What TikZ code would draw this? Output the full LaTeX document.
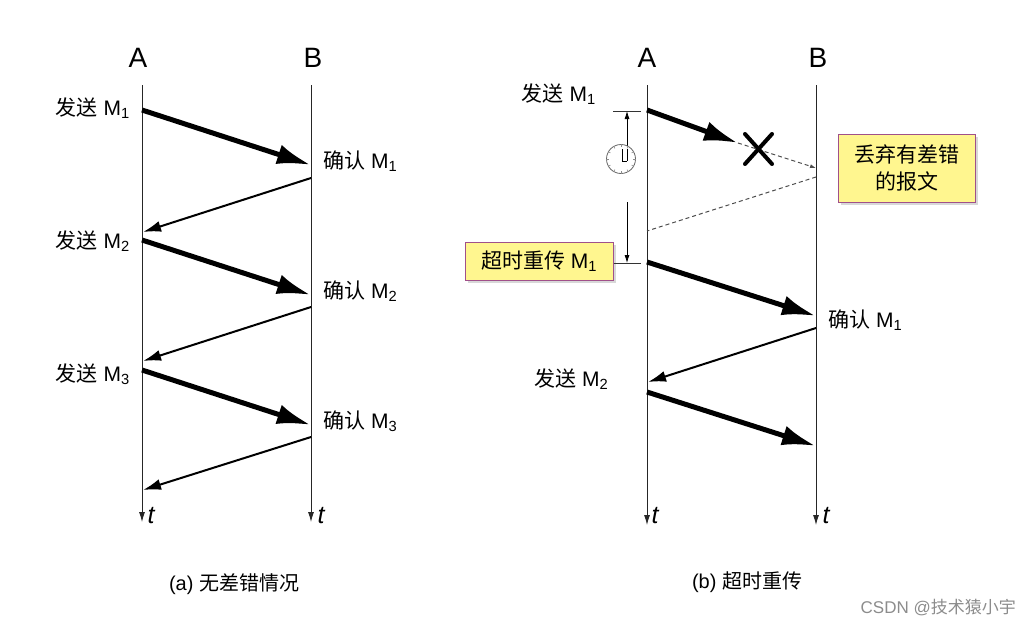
\documentclass[tikz,border=0pt]{standalone}
\usepackage{fontspec}
\setmainfont{Liberation Sans}
\newfontfamily\cjk{Noto Sans CJK SC}
\usepackage{xcolor}
\usetikzlibrary{arrows.meta,shadows,calc}
\definecolor{notefill}{HTML}{FFF68F}
\definecolor{noteline}{HTML}{A0508A}

\begin{document}
\begin{tikzpicture}[
      x=1pt, y=-1pt,
      font=\fontsize{21}{25}\selectfont,
      ends/.style={font=\fontsize{28}{30}\selectfont},
      time/.style={font=\fontsize{25}{28}\selectfont\itshape, anchor=west},
      send/.style={anchor=east, inner sep=0pt},
      ack/.style={anchor=west, inner sep=0pt},
      legend/.style={font=\fontsize{20}{24}\selectfont},
      note/.style={draw=noteline, line width=1pt, fill=notefill, align=center,
                   inner sep=0pt, drop shadow={shadow xshift=2.5pt, shadow yshift=-2.5pt, fill=black!30}},
      life/.style={-{Latex[length=10pt, width=6pt]}, line width=0.9pt, black!85},
      heavy/.style={-{Latex[length=34pt, width=20pt]}, line width=5pt},
      reply/.style={-{Latex[length=18pt, width=11pt]}, line width=2pt},
      lost/.style={dash pattern=on 4pt off 3pt, line width=1pt, black!70},
      timer/.style={-{Latex[length=8pt, width=5pt]}, line width=0.8pt},
      tick/.style={line width=0.9pt, black!80},
    ]
    \useasboundingbox (0,0) rectangle (1019,626);

    % lifelines (a)
    \coordinate (atop) at (142,85);   \coordinate (aend) at (142,522);
    \coordinate (btop) at (311,85);   \coordinate (bend) at (311,522);
    \draw[life] (atop) -- (aend);
    \draw[life] (btop) -- (bend);
    \node[ends] (a) at (138,58) {A};
    \node[ends] (b) at (313,58) {B};
    \node[time] (at) at (144,516) {t};
    \node[time] (bt) at (314,516) {t};

    % messages (a)
    \coordinate (s1) at (142,110);  \coordinate (r1) at (311,165);
    \coordinate (k1) at (311,178);  \coordinate (q1) at (143,232);
    \coordinate (s2) at (142,240);  \coordinate (r2) at (311,295);
    \coordinate (k2) at (311,307);  \coordinate (q2) at (143,361);
    \coordinate (s3) at (142,370);  \coordinate (r3) at (311,425);
    \coordinate (k3) at (311,437);  \coordinate (q3) at (143,490);
    \draw[heavy] (s1) -- (r1);
    \draw[reply] (k1) -- (q1);
    \draw[heavy] (s2) -- (r2);
    \draw[reply] (k2) -- (q2);
    \draw[heavy] (s3) -- (r3);
    \draw[reply] (k3) -- (q3);

    \node[send] (send1) at (130,108) {{\cjk 发送} M\textsubscript{1}};
    \node[send] (send2) at (130,241) {{\cjk 发送} M\textsubscript{2}};
    \node[send] (send3) at (130,374) {{\cjk 发送} M\textsubscript{3}};
    \node[ack] (ack1) at (323,161) {{\cjk 确认} M\textsubscript{1}};
    \node[ack] (ack2) at (323,291) {{\cjk 确认} M\textsubscript{2}};
    \node[ack] (ack3) at (323,421) {{\cjk 确认} M\textsubscript{3}};
    \node[legend] (capa) at (234,584) {(a) {\cjk 无差错情况}};

    % lifelines (b)
    \coordinate (ctop) at (647,85);   \coordinate (cend) at (647,525);
    \coordinate (dtop) at (816,85);   \coordinate (dend) at (816,525);
    \draw[life] (ctop) -- (cend);
    \draw[life] (dtop) -- (dend);
    \node[ends] (c) at (647,58) {A};
    \node[ends] (d) at (818,58) {B};
    \node[time] (ct) at (648,516) {t};
    \node[time] (dt) at (819,516) {t};

    % first copy is lost
    \coordinate (u1) at (647,110);  \coordinate (v1) at (738,143);
    \coordinate (w1) at (816,168);  \coordinate (x1) at (816,177);
    \coordinate (y1) at (647,231);
    \draw[heavy] (u1) -- (v1);
    \draw[lost, -{Latex[length=6pt, width=4pt]}] (v1) -- (w1);
    \draw[lost] (x1) -- (y1);
    \draw[line width=4pt, line cap=round] (745,134) -- (772,164);
    \draw[line width=4pt, line cap=round] (772,134) -- (745,164);

    % retransmission
    \coordinate (u2) at (647,262);  \coordinate (v2) at (816,316);
    \coordinate (u3) at (816,328);  \coordinate (v3) at (648,382);
    \coordinate (u4) at (647,392);  \coordinate (v4) at (816,446);
    \draw[heavy] (u2) -- (v2);
    \draw[reply] (u3) -- (v3);
    \draw[heavy] (u4) -- (v4);

    % timeout
    \node[note, minimum width=148pt, minimum height=38pt] (retry) at (539,261)
      {{\cjk 超时重传} M\textsubscript{1}};
    \coordinate (m0) at (613,111);  \coordinate (m1) at (641,111);
    \coordinate (m2) at (641,263);
    \coordinate (n0) at (627,146);  \coordinate (n1) at (627,111);
    \coordinate (n2) at (627,202);  \coordinate (n3) at (627,263);
    \draw[tick] (m0) -- (m1);
    \draw[tick] (retry.east |- m2) -- (m2);
    \draw[timer] (n0) -- (n1);
    \draw[timer] (n2) -- (n3);

    % clock
    \node[circle, draw=black!60, fill=white, line width=0.8pt, minimum size=29pt, inner sep=0pt] (clock) at (621,159) {};
    \foreach \ang in {0,30,...,330}
      \draw[black!45, line width=0.6pt] (clock.\ang) -- ($(clock.center)!0.82!(clock.\ang)$);
    \draw[line width=0.8pt] (622,149) -- (622,161) -- (627,161);
    \draw[line width=0.8pt] (627,149) -- (627,161);

    \node[note, minimum width=137pt, minimum height=68pt] (drop) at (906.5,168)
      {\cjk 丢弃有差错\\[2pt]\cjk 的报文};
    \node[send] (send4) at (596,94) {{\cjk 发送} M\textsubscript{1}};
    \node[ack] (ack4) at (828,320) {{\cjk 确认} M\textsubscript{1}};
    \node[ack] (send5) at (534,379) {{\cjk 发送} M\textsubscript{2}};
    \node[legend] (capb) at (747,582) {(b) {\cjk 超时重传}};

    % watermark
    \node[anchor=east, inner sep=0pt, black!45, font=\fontsize{17}{20}\selectfont] (mark) at (1016,608)
      {CSDN @{\cjk 技术猿小宇}};
  \end{tikzpicture}
\end{document}
